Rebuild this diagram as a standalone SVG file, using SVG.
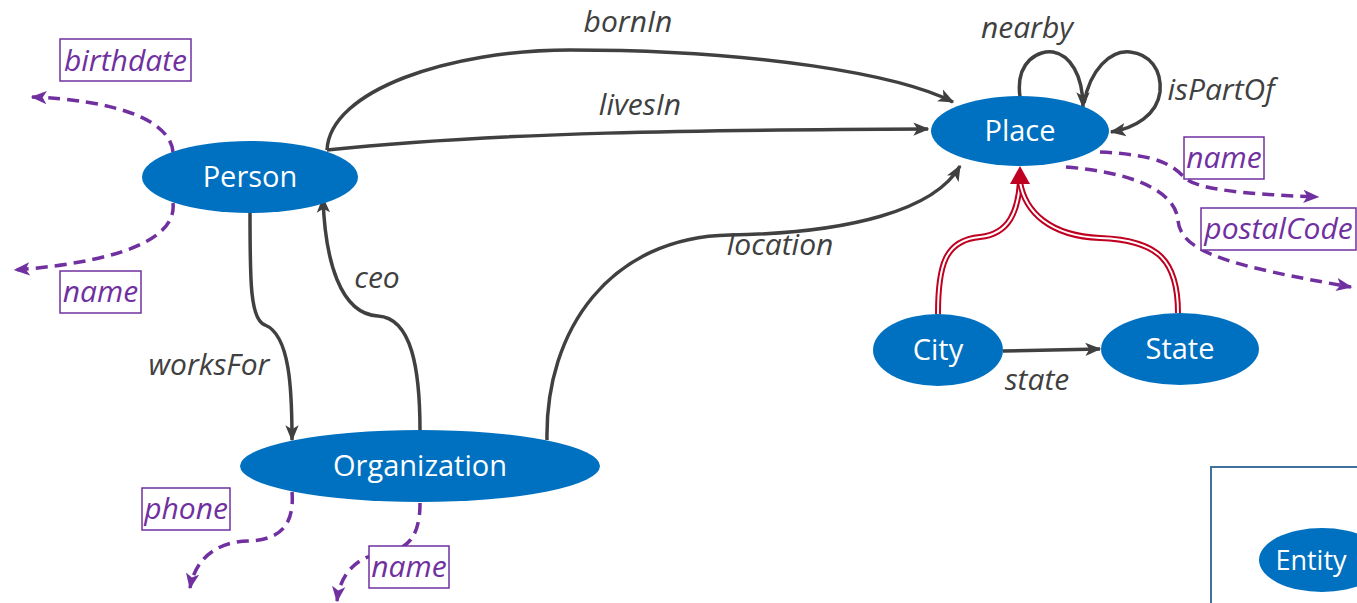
<svg xmlns="http://www.w3.org/2000/svg" width="1357" height="603" viewBox="0 0 1357 603">
<style>
.node{fill:#0070c0}
.nl{fill:#fff;font-family:"Open Sans","Noto Sans",sans-serif;font-size:29px;text-anchor:middle}
.e{fill:none;stroke:#404040;stroke-width:3.5}
.el{fill:#404040;font-family:"Open Sans","Noto Sans",sans-serif;font-style:italic;font-size:30px}
.p{fill:none;stroke:#7030a0;stroke-width:3.5;stroke-dasharray:12 7}
.pl{fill:#7030a0;font-family:"Open Sans","Noto Sans",sans-serif;font-style:italic;font-size:30px}
.pb{fill:#fff;stroke:#7030a0;stroke-width:1.5}
.r1{fill:none;stroke:#c00020;stroke-width:6}
.r2{fill:none;stroke:#fff;stroke-width:2}
</style>
<defs>
<marker id="ga2" viewBox="0 0 12 10" refX="11" refY="5" markerWidth="16" markerHeight="14" markerUnits="userSpaceOnUse" orient="auto">
<path d="M0,0 L12,5 L0,10 L3,5 z" fill="#404040"/>
</marker>
<marker id="pa" viewBox="0 0 12 10" refX="11" refY="5" markerWidth="16" markerHeight="14" markerUnits="userSpaceOnUse" orient="auto">
<path d="M0,0 L12,5 L0,10 L3,5 z" fill="#7030a0"/>
</marker>
</defs>
<rect x="1211" y="467" width="200" height="200" fill="none" stroke="#41719c" stroke-width="2"/>
<g id="connectors">
<path class="e" d="M327,150 C 330,90 450,50 570,50 C 760,50 900,75 953,102" marker-end="url(#ga2)"/>
<path class="e" d="M327,150 C 500,132 700,130 928,129" marker-end="url(#ga2)"/>
<path class="e" d="M547,440 C 545,330 610,237 730,235 C 850,233 935,210 960,166" marker-end="url(#ga2)"/>
<path class="e" d="M420,431 C 420,370 412,318 378,316 C 340,314 325,260 323,198" marker-end="url(#ga2)"/>
<path class="e" d="M250,213 C 250,280 250,320 265,325 C 290,335 292,390 292,440" marker-end="url(#ga2)"/>
<path class="e" d="M1020,97 C 1015,60 1040,50 1053,52 C 1070,55 1083,75 1083,107" marker-end="url(#ga2)"/>
<path class="e" d="M1084,103 C 1090,70 1110,50 1130,52 C 1150,54 1162,70 1160,92 C 1157,115 1135,128 1111,132" marker-end="url(#ga2)"/>
<path class="e" d="M1003,351 L1100,349" marker-end="url(#ga2)"/>
<path class="r1" d="M938,314 C 938,265 945,240 980,237 C 1010,234 1018,210 1020,182"/>
<path class="r2" d="M938,314 C 938,265 945,240 980,237 C 1010,234 1018,210 1020,182"/>
<path class="r1" d="M1178,313 C 1178,262 1160,240 1100,238 C 1050,236 1025,212 1020,182"/>
<path class="r2" d="M1178,313 C 1178,262 1160,240 1100,238 C 1050,236 1025,212 1020,182"/>
<path d="M1020,166 L1030,184 L1010,184 z" fill="#c00020"/>
<path class="p" d="M173,152 C 170,118 110,100 32,97" marker-end="url(#pa)"/>
<path class="p" d="M173,203 C 178,250 80,265 15,270" marker-end="url(#pa)"/>
<path class="p" d="M1100,152 C 1160,155 1172,165 1185,178 C 1200,192 1270,195 1318,197" marker-end="url(#pa)"/>
<path class="p" d="M1066,167 C 1130,172 1175,190 1178,220 C 1180,252 1230,266 1351,287" marker-end="url(#pa)"/>
<path class="p" d="M292,492 C 295,530 275,540 248,541 C 215,542 195,560 190,588" marker-end="url(#pa)"/>
<path class="p" d="M420,503 C 420,540 405,550 383,553 C 355,557 340,575 337,601" marker-end="url(#pa)"/>
</g>
<g id="edge-labels">
<text class="el" x="628" y="32" text-anchor="middle">bornIn</text>
<text class="el" x="640" y="115" text-anchor="middle">livesIn</text>
<text class="el" x="780" y="255" text-anchor="middle">location</text>
<text class="el" x="377" y="288" text-anchor="middle">ceo</text>
<text class="el" x="209" y="375" text-anchor="middle">worksFor</text>
<text class="el" x="1027" y="38" text-anchor="middle">nearby</text>
<text class="el" x="1221" y="100" text-anchor="middle">isPartOf</text>
<text class="el" x="1037" y="390" text-anchor="middle">state</text>
</g>
<g id="prop-birthdate"><rect class="pb" x="60" y="39" width="131" height="42"/><text class="pl" x="125.5" y="71" text-anchor="middle">birthdate</text></g>
<g id="prop-person-name"><rect class="pb" x="60" y="271" width="81" height="42"/><text class="pl" x="100.5" y="302" text-anchor="middle">name</text></g>
<g id="prop-place-name"><rect class="pb" x="1184" y="137" width="80" height="42"/><text class="pl" x="1224" y="168" text-anchor="middle">name</text></g>
<g id="prop-postalCode"><rect class="pb" x="1201" y="208" width="155" height="42"/><text class="pl" x="1278.5" y="239" text-anchor="middle">postalCode</text></g>
<g id="prop-phone"><rect class="pb" x="142" y="488" width="88" height="42"/><text class="pl" x="186" y="519" text-anchor="middle">phone</text></g>
<g id="prop-org-name"><rect class="pb" x="369" y="546" width="80" height="42"/><text class="pl" x="409" y="577" text-anchor="middle">name</text></g>
<g id="node-person"><ellipse class="node" cx="250" cy="177" rx="108" ry="36"/><text class="nl" x="250" y="187">Person</text></g>
<g id="node-place"><ellipse class="node" cx="1020" cy="131" rx="89" ry="35"/><text class="nl" x="1020" y="141">Place</text></g>
<g id="node-organization"><ellipse class="node" cx="420" cy="466" rx="180" ry="36"/><text class="nl" x="420" y="476">Organization</text></g>
<g id="node-city"><ellipse class="node" cx="938" cy="350" rx="65" ry="36"/><text class="nl" x="938" y="360">City</text></g>
<g id="node-state"><ellipse class="node" cx="1180" cy="349" rx="79" ry="36"/><text class="nl" x="1180" y="359">State</text></g>
<g id="node-entity"><ellipse class="node" cx="1322" cy="560" rx="63" ry="32"/><text class="nl" x="1311" y="570" style="font-size:27px">Entity</text></g>
</svg>
